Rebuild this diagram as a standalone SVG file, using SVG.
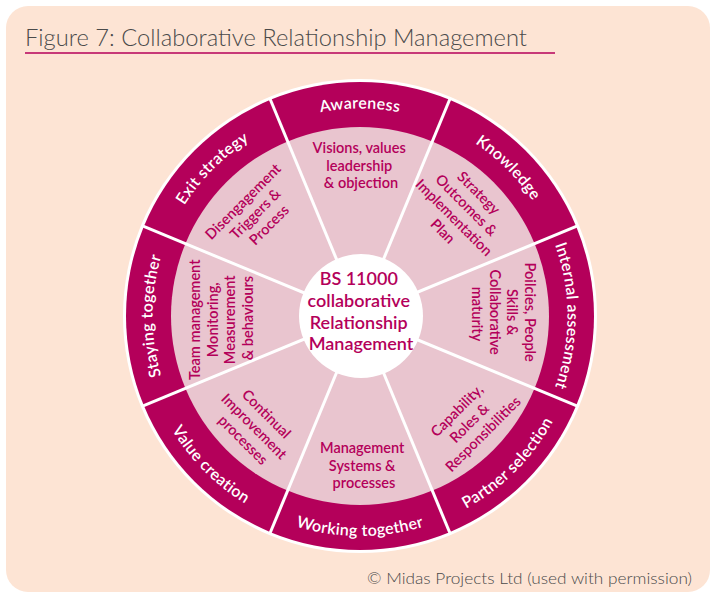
<svg xmlns="http://www.w3.org/2000/svg" width="712" height="594" viewBox="0 0 712 594">
  <style>
    .title{font-family:Lato,"Open Sans",sans-serif;font-weight:300;fill:#4a4a4a}
    .band{font-family:Lato,"Open Sans",sans-serif;font-weight:600;font-size:16px;letter-spacing:0.3px;fill:#ffffff;text-anchor:middle}
    .inner{font-family:Lato,"Open Sans",sans-serif;font-weight:600;font-size:14.5px;fill:#b4005a;text-anchor:middle}
    .hub{font-family:Lato,"Open Sans",sans-serif;font-weight:600;font-size:18px;fill:#b4005a;text-anchor:middle}
  </style>
  <defs>
    <!-- clockwise arcs: letters stand outward -->
    <path id="arc-awareness" d="M226.62,157.05 A207.5,207.5 0 0 1 493.38,157.05"/>
    <path id="arc-knowledge" d="M378.09,109.29 A207.5,207.5 0 0 1 566.71,297.91"/>
    <path id="arc-internal" d="M518.95,182.62 A207.5,207.5 0 0 1 518.95,449.38"/>
    <path id="arc-staying" d="M201.05,449.38 A207.5,207.5 0 0 1 201.05,182.62"/>
    <path id="arc-exit" d="M153.29,297.91 A207.5,207.5 0 0 1 341.91,109.29"/>
    <!-- anticlockwise arcs: letters stand toward the hub -->
    <path id="arc-partner" d="M379.18,535.16 A220,220 0 0 0 579.16,334.18"/>
    <path id="arc-working" d="M218.58,484.53 A220,220 0 0 0 501.42,484.53"/>
    <path id="arc-value" d="M140.84,334.18 A220,220 0 0 0 340.82,535.16"/>
  </defs>

  <rect width="712" height="594" fill="#ffffff"/>
  <rect x="6" y="6" width="704" height="586" rx="22" fill="#fde4d4"/>

  <text class="title" x="25" y="46" font-size="24" textLength="502" lengthAdjust="spacingAndGlyphs">Figure 7: Collaborative Relationship Management</text>
  <line x1="25" y1="53" x2="555" y2="53" stroke="#b4005a" stroke-width="1.5"/>

  <!-- wheel base -->
  <g id="wheel">
    <circle cx="360" cy="316" r="237" fill="#ffffff"/>
    <circle cx="360" cy="316" r="234" fill="#b4005a"/>
    <circle cx="360" cy="316" r="189" fill="#e9c5cf"/>
  </g>

  <!-- spokes between segments -->
  <g id="dividers" stroke="#ffffff" stroke-width="3">
    <line x1="360" y1="316" x2="269.69" y2="97.96"/>
    <line x1="360" y1="316" x2="450.31" y2="97.96"/>
    <line x1="360" y1="316" x2="578.04" y2="225.69"/>
    <line x1="360" y1="316" x2="578.04" y2="406.31"/>
    <line x1="360" y1="316" x2="450.31" y2="534.04"/>
    <line x1="360" y1="316" x2="269.69" y2="534.04"/>
    <line x1="360" y1="316" x2="141.96" y2="406.31"/>
    <line x1="360" y1="316" x2="141.96" y2="225.69"/>
  </g>

  <g id="awareness">
    <text class="band"><textPath href="#arc-awareness" startOffset="50%">Awareness</textPath></text>
    <text class="inner" transform="translate(361,166)">
      <tspan x="0" y="-13">Visions, values</tspan>
      <tspan x="0" y="4.5">leadership</tspan>
      <tspan x="0" y="22">&amp; objection</tspan>
    </text>
  </g>

  <g id="knowledge">
    <text class="band"><textPath href="#arc-knowledge" startOffset="50%">Knowledge</textPath></text>
    <text class="inner" transform="translate(461,213) rotate(45)">
      <tspan x="0" y="-21.75">Strategy</tspan>
      <tspan x="0" y="-4.25">Outcomes &amp;</tspan>
      <tspan x="0" y="13.25">Implementation</tspan>
      <tspan x="0" y="30.75">Plan</tspan>
    </text>
  </g>

  <g id="internal-assessment">
    <text class="band"><textPath href="#arc-internal" startOffset="50%">Internal assessment</textPath></text>
    <text class="inner" transform="translate(503,314) rotate(90)">
      <tspan x="0" y="-21.75">Poilcies, People</tspan>
      <tspan x="0" y="-4.25">Skills &amp;</tspan>
      <tspan x="0" y="13.25">Collaborative</tspan>
      <tspan x="0" y="30.75">maturity</tspan>
    </text>
  </g>

  <g id="partner-selection">
    <text class="band"><textPath href="#arc-partner" startOffset="50%">Partner selection</textPath></text>
    <text class="inner" transform="translate(471,422) rotate(-45)">
      <tspan x="0" y="-13">Capability,</tspan>
      <tspan x="0" y="4.5">Roles &amp;</tspan>
      <tspan x="0" y="22">Responsibilities</tspan>
    </text>
  </g>

  <g id="working-together">
    <text class="band"><textPath href="#arc-working" startOffset="50%">Working together</textPath></text>
    <text class="inner" transform="translate(364,466)">
      <tspan x="0" y="-13">Management</tspan>
      <tspan x="0" y="4.5">Systems &amp;</tspan>
      <tspan x="0" y="22">processes</tspan>
    </text>
  </g>

  <g id="value-creation">
    <text class="band"><textPath href="#arc-value" startOffset="50%">Value creation</textPath></text>
    <text class="inner" transform="translate(255,428) rotate(45)">
      <tspan x="0" y="-13">Continual</tspan>
      <tspan x="0" y="4.5">Improvement</tspan>
      <tspan x="0" y="22">processes</tspan>
    </text>
  </g>

  <g id="staying-together">
    <text class="band"><textPath href="#arc-staying" startOffset="50%">Staying together</textPath></text>
    <text class="inner" transform="translate(222,318) rotate(-90)">
      <tspan x="0" y="-21.75">Team management</tspan>
      <tspan x="0" y="-4.25">Monitoring,</tspan>
      <tspan x="0" y="13.25">Measurement</tspan>
      <tspan x="0" y="30.75">&amp; behaviours</tspan>
    </text>
  </g>

  <g id="exit-strategy">
    <text class="band"><textPath href="#arc-exit" startOffset="50%">Exit strategy</textPath></text>
    <text class="inner" transform="translate(257,213) rotate(-45)">
      <tspan x="0" y="-13">Disengagement</tspan>
      <tspan x="0" y="4.5">Triggers &amp;</tspan>
      <tspan x="0" y="22">Process</tspan>
    </text>
  </g>

  <g id="hub">
    <circle cx="361" cy="316" r="62" fill="#ffffff"/>
    <text class="hub">
      <tspan x="361" y="285">BS 11000</tspan>
      <tspan x="361" y="307">collaborative</tspan>
      <tspan x="361" y="328.5">Relationship</tspan>
      <tspan x="361" y="350">Management</tspan>
    </text>
  </g>

  <text class="title" x="367" y="584" font-size="15.5" font-weight="400" textLength="325" lengthAdjust="spacingAndGlyphs">© Midas Projects Ltd (used with permission)</text>
</svg>
